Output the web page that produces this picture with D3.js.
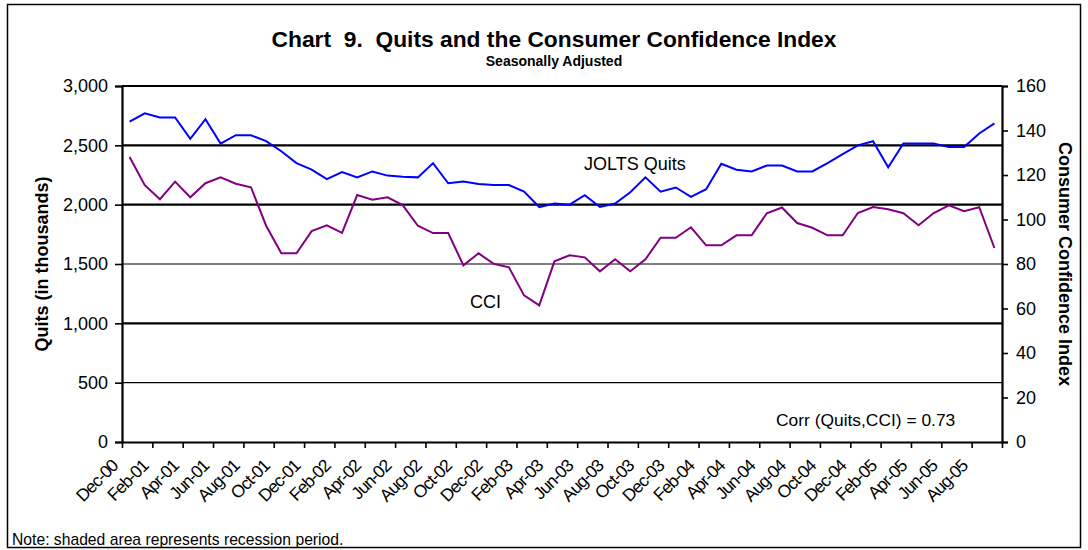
<!DOCTYPE html>
<html>
<head>
<meta charset="utf-8">
<script src="https://cdn.jsdelivr.net/npm/d3@7"></script>
<style>
    body { margin: 0; background: #fff; }
    svg text { font-family: Arial, 'Liberation Sans', sans-serif; fill: #000; }
</style>
</head>
<body>
<div class="viz"></div>
<script>
// months Dec-00 .. Sep-05
const months = [
    'Dec-00', 'Jan-01', 'Feb-01', 'Mar-01', 'Apr-01', 'May-01', 'Jun-01', 'Jul-01', 'Aug-01', 'Sep-01', 'Oct-01', 'Nov-01',
    'Dec-01', 'Jan-02', 'Feb-02', 'Mar-02', 'Apr-02', 'May-02', 'Jun-02', 'Jul-02', 'Aug-02', 'Sep-02', 'Oct-02', 'Nov-02',
    'Dec-02', 'Jan-03', 'Feb-03', 'Mar-03', 'Apr-03', 'May-03', 'Jun-03', 'Jul-03', 'Aug-03', 'Sep-03', 'Oct-03', 'Nov-03',
    'Dec-03', 'Jan-04', 'Feb-04', 'Mar-04', 'Apr-04', 'May-04', 'Jun-04', 'Jul-04', 'Aug-04', 'Sep-04', 'Oct-04', 'Nov-04',
    'Dec-04', 'Jan-05', 'Feb-05', 'Mar-05', 'Apr-05', 'May-05', 'Jun-05', 'Jul-05', 'Aug-05', 'Sep-05'
];

// JOLTS quits, thousands
const quits = [
    2700, 2770, 2735, 2735, 2555, 2720, 2515, 2585, 2585, 2535, 2450, 2350,
    2295, 2215, 2275, 2230, 2280, 2245, 2235, 2230, 2350, 2180, 2195, 2175,
    2165, 2165, 2110, 1980, 2010, 2000, 2080, 1980, 2010, 2105, 2230, 2110,
    2145, 2065, 2130, 2345, 2295, 2280, 2330, 2330, 2280, 2280, 2350, 2425,
    2500, 2535, 2315, 2515, 2515, 2515, 2485, 2485, 2600, 2685
];

// consumer confidence index
const cci = [
    128.1, 115.4, 109.1, 117.0, 110.0, 116.3, 119.0, 116.1, 114.5, 97.2, 84.8, 84.8,
    94.8, 97.4, 94.0, 111.0, 108.9, 110.0, 106.5, 97.2, 93.9, 93.9, 79.4, 84.8,
    80.1, 78.5, 65.9, 61.4, 81.2, 83.9, 83.0, 76.7, 82.1, 76.7, 82.1, 91.8,
    91.8, 96.5, 88.4, 88.4, 92.9, 92.9, 102.8, 105.4, 98.4, 96.3, 92.9, 92.9,
    102.9, 105.6, 104.6, 102.8, 97.4, 102.9, 106.4, 103.7, 105.5, 87.2
];

const leftTicks = [0, 500, 1000, 1500, 2000, 2500, 3000];
const rightTicks = [0, 20, 40, 60, 80, 100, 120, 140, 160];
const thinGrid = [500, 1500];

const width = 1088;
const height = 550;
const plot = {left: 122, right: 1002, top: 86, bottom: 442};

const svg = d3.select('.viz')
    .append('svg')
    .attr('width', width)
    .attr('height', height);

// outer frame
svg.append('rect')
    .attr('x', 7.5)
    .attr('y', 4.5)
    .attr('width', 1073)
    .attr('height', 543)
    .attr('fill', 'none')
    .attr('stroke', '#000')
    .attr('stroke-width', 1.5);

const x = d3.scaleBand()
    .domain(months)
    .range([plot.left, plot.right]);
const xEdge = d3.scaleLinear()
    .domain([0, months.length])
    .range([plot.left, plot.right]);
const yLeft = d3.scaleLinear()
    .domain([0, 3000])
    .range([plot.bottom, plot.top]);
const yRight = d3.scaleLinear()
    .domain([0, 160])
    .range([plot.bottom, plot.top]);

// gridlines
svg.append('g').selectAll('.grid')
    .data(leftTicks.filter(d => d > 0))
    .enter()
    .append('line')
        .classed('grid', true)
        .attr('x1', plot.left)
        .attr('x2', plot.right)
        .attr('y1', d => yLeft(d))
        .attr('y2', d => yLeft(d))
        .attr('stroke', '#000')
        .attr('stroke-width', d => thinGrid.includes(d) ? 1.2 : 2.2);

// left axis
const axLeft = svg.append('g')
    .attr('transform', 'translate(' + plot.left + ',0)')
    .call(d3.axisLeft(yLeft).tickValues(leftTicks).tickFormat(d3.format(',')).tickSize(7).tickPadding(7));
// right axis
const axRight = svg.append('g')
    .attr('transform', 'translate(' + plot.right + ',0)')
    .call(d3.axisRight(yRight).tickValues(rightTicks).tickSize(6).tickPadding(8));
// bottom axis (ticks between categories, every 2)
const axBottom = svg.append('g')
    .attr('transform', 'translate(0,' + plot.bottom + ')')
    .call(d3.axisBottom(xEdge).tickValues(d3.range(0, months.length + 1, 2)).tickFormat('').tickSize(6).tickSizeOuter(0));

[axLeft, axRight, axBottom].forEach(ax => {
    ax.select('.domain').attr('stroke-width', 2.2);
    ax.selectAll('.tick line').attr('stroke-width', 1.6);
    ax.selectAll('text').style('font-size', '18px').attr('fill', '#000');
});

// x labels, rotated, ending just left of the category's tick
svg.append('g').selectAll('.xlabel')
    .data(months.filter((m, i) => i % 2 == 0))
    .enter()
    .append('text')
        .classed('xlabel', true)
        .attr('transform', d => 'translate(' + (x(d) - 3) + ',' + (plot.bottom + 25) + ') rotate(-45)')
        .attr('text-anchor', 'end')
        .style('font-size', '17.5px')
        .style('letter-spacing', '-1px')
        .text(d => d);

// lines
const lineQuits = d3.line()
    .x((d, i) => x(months[i]) + x.bandwidth() / 2)
    .y(d => yLeft(d));
const lineCci = d3.line()
    .x((d, i) => x(months[i]) + x.bandwidth() / 2)
    .y(d => yRight(d));

svg.append('path')
    .datum(cci)
    .attr('d', lineCci)
    .attr('fill', 'none')
    .attr('stroke', '#800080')
    .attr('stroke-width', 2);

svg.append('path')
    .datum(quits)
    .attr('d', lineQuits)
    .attr('fill', 'none')
    .attr('stroke', '#0000ff')
    .attr('stroke-width', 2);

// titles
svg.append('text')
    .attr('x', 554)
    .attr('y', 47)
    .attr('text-anchor', 'middle')
    .style('font-size', '22.8px')
    .style('font-weight', 700)
    .style('white-space', 'pre')
    .text('Chart  9.  Quits and the Consumer Confidence Index');

svg.append('text')
    .attr('x', 554)
    .attr('y', 66)
    .attr('text-anchor', 'middle')
    .style('font-size', '14px')
    .style('font-weight', 700)
    .text('Seasonally Adjusted');

svg.append('text')
    .attr('transform', 'translate(48,' + ((plot.top + plot.bottom) / 2) + ') rotate(-90)')
    .attr('text-anchor', 'middle')
    .style('font-size', '18px')
    .style('font-weight', 700)
    .text('Quits (in thousands)');

svg.append('text')
    .attr('transform', 'translate(1059,' + ((plot.top + plot.bottom) / 2) + ') rotate(90)')
    .attr('text-anchor', 'middle')
    .style('font-size', '18px')
    .style('font-weight', 700)
    .text('Consumer Confidence Index');

// annotations
svg.append('text')
    .attr('x', 584)
    .attr('y', 170)
    .style('font-size', '18px')
    .text('JOLTS Quits');

svg.append('text')
    .attr('x', 470)
    .attr('y', 308)
    .style('font-size', '18px')
    .text('CCI');

svg.append('text')
    .attr('x', 776)
    .attr('y', 426)
    .style('font-size', '17.4px')
    .text('Corr (Quits,CCI) = 0.73');

svg.append('text')
    .attr('x', 12)
    .attr('y', 545)
    .style('font-size', '15.7px')
    .text('Note: shaded area represents recession period.');
</script>
</body>
</html>
